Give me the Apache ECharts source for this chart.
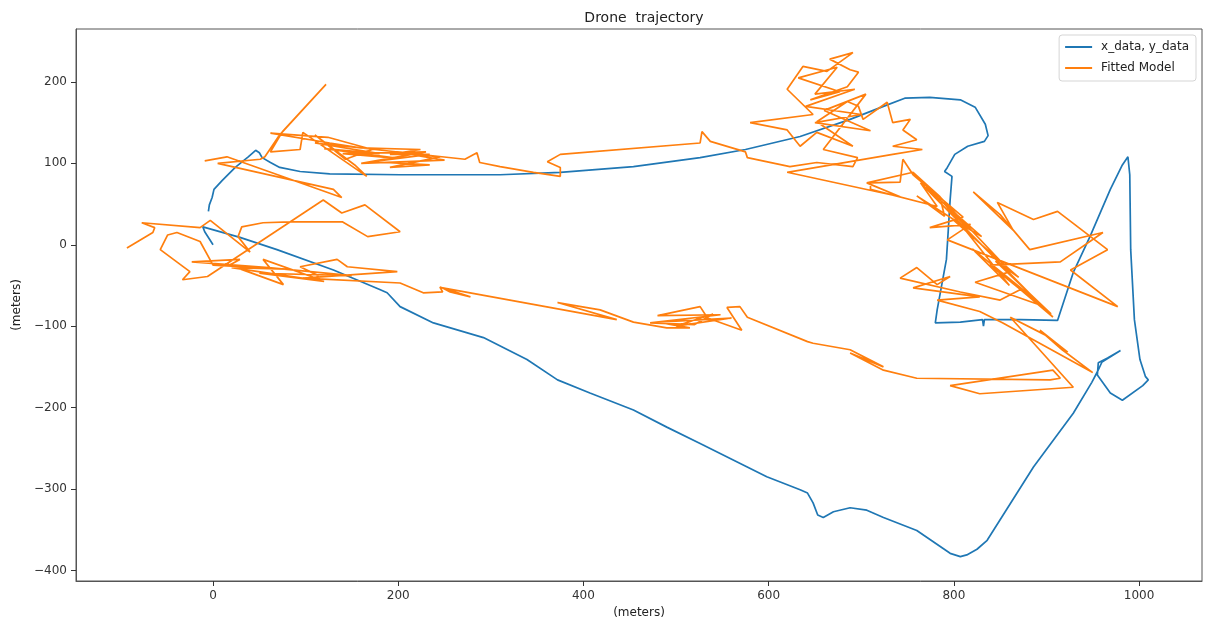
<!DOCTYPE html>
<html>
<head>
<meta charset="utf-8">
<script src="https://cdn.jsdelivr.net/npm/echarts@6/dist/echarts.min.js"></script>
<style>
  html, body { margin: 0; padding: 0; background: #fff; }
  #chart { width: 1212px; height: 626px; }
</style>
</head>
<body>
<div id="chart"></div>
<script>
// ---- data (meters) ----
const titleText = 'Drone  trajectory';
const seriesNames = ['x_data, y_data', 'Fitted Model'];
const xTicks = [0, 200, 400, 600, 800, 1000];
const yTicks = [-400, -300, -200, -100, 0, 100, 200];

const measured = [
  [-5,41],[-4,49],[-1,58],[1,68],[10,79],[24,95],[38,108],[46,116],[50,113],[53,107],
  [62,101],[72,95],[94,90],[126,87],[202,86],[310,86],[375,89],[454,96],[526,107],[575,117],
  [634,133],[688,154],[724,170],[747,180],[774,181],[807,178],[823,169],[834,148],[837,134],[833,127],
  [815,121],[801,111],[793,95],[790,90],[798,84],[796,55],[794,18],[792,-18],[787,-49],[782,-80],
  [780,-96],[807,-95],[831,-92],[832,-100],[833,-92],[872,-92],[912,-93],[929,-34],[947,10],[969,68],
  [982,98],[988,108],[990,86],[991,-6],[995,-92],[1001,-141],[1007,-162],[1010,-166],[1004,-173],[982,-191],
  [969,-182],[955,-160],[956,-145],[966,-139],[980,-130],[960,-144],[955,-156],[949,-169],[929,-207],[886,-273],
  [836,-363],[825,-374],[814,-381],[807,-383],[796,-379],[760,-351],[724,-335],[706,-326],[688,-323],[670,-328],
  [659,-335],[653,-332],[648,-317],[642,-305],[634,-301],[598,-285],[526,-244],[490,-224],[454,-203],[407,-182],
  [372,-166],[339,-141],[292,-114],[238,-96],[202,-76],[188,-59],[180,-55],[130,-31],[69,-6],[29,9],
  [-11,22],[-9,16],[0,0]
];

const fitted = [
  [-93,-4],[-65,15],[-63,21],[-77,27],[-14,21],[-3,30],[40,-9],[27,10],[31,22],[54,27],
  [83,28],[140,28],[167,10],[202,16],[164,49],[139,39],[119,55],[-6,-39],[-33,-43],[-25,-33],
  [-57,-6],[-49,12],[-39,15],[-14,4],[0,-25],[80,-30],[20,-28],[120,-45],[50,-35],[150,-38],
  [60,-28],[-23,-21],[29,-18],[18,-25],[76,-49],[54,-18],[116,-43],
  [112,-37],[94,-27],[134,-18],[145,-27],[199,-33],[97,-41],[202,-47],[227,-59],[248,-58],[245,-52],
  [278,-64],[256,-58],[248,-53],[436,-92],[372,-71],[418,-80],[454,-95],[490,-102],[515,-102],
  [480,-95],[560,-90],[500,-100],[540,-85],[520,-98],[472,-96],
  [548,-86],[480,-87],[526,-76],[534,-90],[571,-105],[555,-77],[569,-76],[577,-89],[642,-119],[648,-121],
  [688,-129],[724,-150],[688,-133],[724,-154],[760,-164],[904,-166],[915,-164],[907,-154],[796,-173],[828,-183],
  [929,-175],[861,-89],[899,-111],[923,-132],[893,-105],[917,-129],[950,-157],[853,-96],[828,-82],[782,-68],
  [828,-64],[756,-53],[796,-39],[782,-49],[760,-28],[742,-41],[807,-58],[850,-68],[872,-55],[907,-89],
  [764,76],[782,47],[710,68],[710,76],[742,77],[745,105],[756,86],[810,34],[774,21],[818,25],
  [793,6],[977,-76],[926,-31],[966,-6],[912,41],[886,31],[847,52],[864,18],[821,65],[850,37],
  [882,-6],[961,15],[915,-21],[839,-25],[893,-74],[823,-46],[861,-33],[785,59],
  [770,70],[830,10],[800,30],[870,-40],[845,-20],[905,-85],[880,-60],[820,-5],[860,-50],[790,50],
  [815,20],[760,60],[790,35],[785,59],
  [756,89],[706,76],[742,59],[620,89],[734,111],[766,117],[734,121],[760,129],[745,141],[753,154],
  [734,150],[728,175],[702,154],[697,170],[685,176],[652,151],[691,121],[652,138],[634,121],[620,141],
  [580,150],[648,160],[620,191],[637,219],[663,213],[691,236],[666,228],[688,215],[697,212],[685,194],
  [645,178],[677,188],[632,205],[674,218],[650,185],[693,191],
  [640,170],[700,160],[650,150],[710,140],[660,165],[705,185],
  [659,117],[696,107],[691,96],[652,101],
  [623,96],[577,107],[575,114],[537,127],[528,139],[526,125],[375,111],[361,102],[375,95],[375,84],
  [346,89],[310,96],[288,101],[285,113],[272,105],
  [110,125],[180,112],[120,118],[200,106],[140,112],[230,114],[160,100],[250,104],
  [202,113],[245,108],[191,95],[234,98],[172,102],[234,111],[191,111],[224,117],[159,119],[126,125],
  [62,137],[124,132],[172,117],[143,105],[110,135],[153,98],[166,84],[97,138],[94,117],[62,114],
  [75,139],[122,197],[72,135],[56,108],[51,105],[5,100],[130,68],[139,58],[15,108],[-9,103]
];

const blue = '#1f77b4';
const orange = '#ff7f0e';
const axisColor = '#555';
const font = 'DejaVu Sans';
const fmt = v => (xTicks.includes(v) || yTicks.includes(v)) ? String(v).replace('-', '\u2212') : '';

const chart = echarts.init(document.getElementById('chart'), null, { renderer: 'canvas' });
chart.setOption({
  animation: false,
  backgroundColor: '#fff',
  title: {
    text: titleText,
    left: 639, top: 6, textAlign: 'center',
    textStyle: { fontFamily: font, fontSize: 14, fontWeight: 'normal', color: '#222' }
  },
  grid: {
    left: 76, right: 10, top: 29, bottom: 45,
    show: true, borderColor: axisColor, borderWidth: 1, backgroundColor: 'transparent',
    containLabel: false
  },
  legend: {
    orient: 'vertical',
    right: 16, top: 35,
    padding: [5, 7, 6, 6],
    backgroundColor: '#fff',
    borderColor: '#d5d5d5', borderWidth: 1, borderRadius: 3,
    icon: 'rect', itemWidth: 27, itemHeight: 2, itemGap: 7,
    textStyle: { fontFamily: font, fontSize: 12, color: '#222', lineHeight: 14, padding: [0, 0, 0, 4] },
    data: seriesNames
  },
  xAxis: {
    type: 'value', min: -148, max: 1068, splitNumber: 5,
    name: '(meters)', nameLocation: 'middle', nameGap: 26,
    nameTextStyle: { fontFamily: font, fontSize: 12, color: '#222' },
    axisLine: { show: true, onZero: false, lineStyle: { color: axisColor, width: 1 } },
    axisTick: { show: true, inside: false, length: 5, lineStyle: { color: '#333', width: 1 } },
    axisLabel: { showMinLabel: false, showMaxLabel: false, formatter: fmt, fontFamily: font, fontSize: 12, color: '#333', margin: 9 },
    splitLine: { show: false }
  },
  yAxis: {
    type: 'value', min: -413, max: 265, splitNumber: 5,
    name: '(meters)', nameLocation: 'middle', nameGap: 52, nameRotate: 90,
    nameTextStyle: { fontFamily: font, fontSize: 12, color: '#222' },
    axisLine: { show: true, onZero: false, lineStyle: { color: axisColor, width: 1 } },
    axisTick: { show: true, inside: false, length: 5, lineStyle: { color: '#333', width: 1 } },
    axisLabel: { showMinLabel: false, showMaxLabel: false, formatter: fmt, fontFamily: font, fontSize: 12, color: '#333', margin: 9 },
    splitLine: { show: false }
  },
  series: [
    {
      name: seriesNames[0], type: 'line', data: measured,
      showSymbol: false, symbol: 'none', smooth: false, z: 2,
      lineStyle: { color: blue, width: 1.7 }, itemStyle: { color: blue }
    },
    {
      name: seriesNames[1], type: 'line', data: fitted,
      showSymbol: false, symbol: 'none', smooth: false, z: 3,
      lineStyle: { color: orange, width: 1.7 }, itemStyle: { color: orange }
    }
  ]
});
</script>
</body>
</html>
